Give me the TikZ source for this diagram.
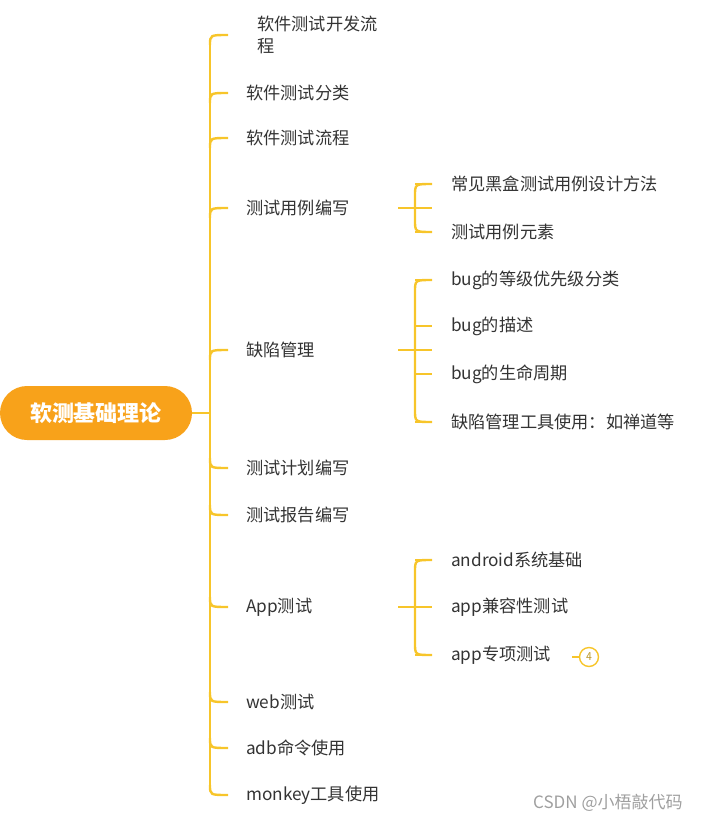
\documentclass[tikz,border=0pt]{standalone}
\usepackage{fontspec}
\newfontfamily\cjk{Noto Sans CJK SC}
\usetikzlibrary{positioning}
\definecolor{branchc}{HTML}{F7C52A}
\definecolor{rootc}{HTML}{F8A21A}
\definecolor{textc}{HTML}{333333}
\tikzset{
  leaf/.style={anchor=west,inner sep=0pt,text=textc,font=\cjk\fontsize{17.2}{22}\selectfont,align=left},
  branch/.style={draw=branchc,line width=2.4pt},
}
\begin{document}
\begin{tikzpicture}[x=1pt,y=-1pt]
\useasboundingbox (0,0) rectangle (720,822);
% root
\node[fill=rootc,rounded corners=27pt,minimum width=192pt,minimum height=54pt,
  text=white,font=\cjk\bfseries\fontsize{22}{24}\selectfont] (root) at (96,413) {软测基础理论};
\coordinate (trunk) at (210,413);
\draw[branch] (root.east) -- (trunk);
\draw[branch] (210,45) -- (210,785);
% first level
\node[leaf] (a) at (257,35) {软件测试开发流\\程};
\draw[branch] (210,45) .. controls (210,35) .. (228,35);
\foreach \y/\name/\txt in {93/b/软件测试分类,138/c/软件测试流程,
  208/d/测试用例编写,350/e/缺陷管理,468/f/测试计划编写,515/g/测试报告编写,
  607/h/App测试,702/i/web测试,748/j/adb命令使用,795/k/monkey工具使用}{
  \node[leaf] (\name) at (246,\y) {\txt};
  \ifdim\y pt<413pt
    \draw[branch] (210,\y+10) .. controls (210,\y) .. (228,\y);
  \else
    \draw[branch] (210,\y-10) .. controls (210,\y) .. (228,\y);
  \fi
}
% second level
\foreach \px/\ytop/\ybot/\ymid in {398/184/232/208,398/280/422/350,398/560/655/607}{
  \draw[branch] (\px,\ymid) -- (432,\ymid);
  \draw[branch] (432,\ytop) .. controls (415,\ytop) .. (415,\ytop+12) -- (415,\ybot-12) .. controls (415,\ybot) .. (432,\ybot);
}
\foreach \y/\name/\txt in {184/d1/常见黑盒测试用例设计方法,232/d2/测试用例元素,
  280/e1/bug的等级优先级分类,326/e2/bug的描述,374/e3/bug的生命周期,422/e4/缺陷管理工具使用：如禅道等,
  560/h1/android系统基础,607/h2/app兼容性测试,655/h3/app专项测试}{
  \draw[branch] (415,\y) -- (432,\y);
  \node[leaf] (\name) at (451,\y) {\txt};
}
\node[draw=branchc,line width=1.4pt,circle,minimum size=19pt,inner sep=0pt,
  text=branchc!75!black,font=\sffamily\fontsize{12}{12}\selectfont] (cnt) at (589,657) {4};
\draw[branch,line width=1.6pt] (572,657) -- (cnt.west);
\node[anchor=west,inner sep=0pt,text=gray!75,font=\cjk\fontsize{17}{20}\selectfont] (wm) at (533,803) {CSDN @小梧敲代码};
\end{tikzpicture}
\end{document}
